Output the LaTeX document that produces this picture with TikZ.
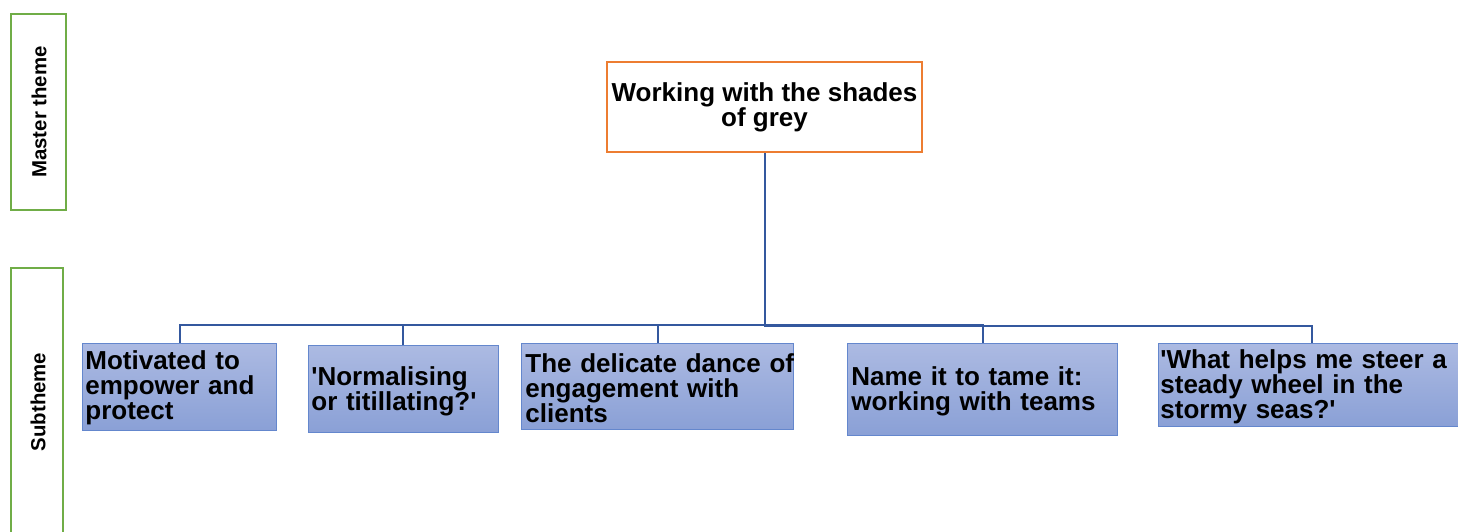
\documentclass[tikz,border=0pt]{standalone}
\usepackage{fontspec}
\setmainfont{Liberation Sans}
\definecolor{themegreen}{RGB}{112,173,71}
\definecolor{masterorange}{RGB}{237,125,49}
\definecolor{linkblue}{RGB}{52,88,158}
\definecolor{subedge}{RGB}{100,135,205}
\definecolor{subtop}{RGB}{172,186,226}
\definecolor{subbottom}{RGB}{138,160,214}
\newcommand{\sq}{\textquotesingle}
\begin{document}
% one drawing unit is half a point; y grows downwards
\begin{tikzpicture}[x=0.5pt,y=-0.5pt,
  levelbox/.style={draw=themegreen, line width=1.3pt, inner sep=0pt},
  levellabel/.style={rotate=90, font=\bfseries\fontsize{10.2}{12}\selectfont},
  masterbox/.style={draw=masterorange, line width=1pt, fill=white,
    align=center, inner sep=0pt,
    font=\bfseries\fontsize{13}{12.5}\selectfont},
  subbox/.style={draw=subedge, line width=0.5pt,
    top color=subtop, bottom color=subbottom,
    inner sep=0pt, anchor=north west},
  subtext/.style={anchor=west, align=left, inner sep=0pt, text width=160pt,
    font=\bfseries\fontsize{13}{12.5}\selectfont},
  link/.style={draw=linkblue, line width=1pt}]
\useasboundingbox (0,0) rectangle (1458,531);

% level labels on the left
\draw[levelbox] (11,14) rectangle (66,210);
\node[levellabel] (lvmaster) at (39,112) {Master theme};
\draw[levelbox] (11,268) rectangle (63,545);
\node[levellabel] (lvsub) at (38,402) {Subtheme};

% master theme
\node[masterbox, minimum width=157.5pt, minimum height=45pt] (master) at (764.5,107)
  {Working with the shades\\of grey};

% subthemes
\node[subbox, minimum width=97pt, minimum height=43.5pt] (s1) at (82,343) {};
\node[subtext] (t1) at (85,388)
  {Motivated to\\empower and\\protect};

\node[subbox, minimum width=95pt, minimum height=43.5pt] (s2) at (308,345) {};
\node[subtext] (t2) at (311,391)
  {\sq Normalising\\or titillating?\sq};

\node[subbox, minimum width=136pt, minimum height=43pt] (s3) at (521,343) {};
\node[subtext] (t3) at (525,388)
  {The delicate dance of\\engagement with\\clients};

\node[subbox, minimum width=135pt, minimum height=46pt] (s4) at (847,343) {};
\node[subtext] (t4) at (851,391)
  {Name it to tame it:\\working with teams};

\node[subbox, minimum width=155pt, minimum height=41.5pt] (s5) at (1158,343) {};
\node[subtext] (t5) at (1160,387)
  {\sq What helps me steer a\\steady wheel in the\\stormy seas?\sq};

% connectors from the master theme to each subtheme
\foreach \s/\x/\y in {s1/180/325, s2/403/325, s3/658/325, s4/983/325, s5/1312/326}
  \draw[link] (master.south) -- (764.5,\y) -- (\x,\y) -- (\x,0 |- \s.north);
\end{tikzpicture}
\end{document}
